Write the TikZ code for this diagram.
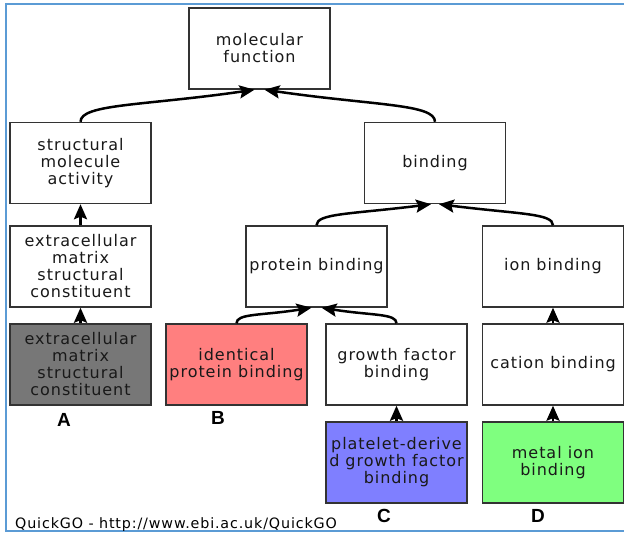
\documentclass[tikz,border=0pt]{standalone}
\usepackage{fontspec}
\usepackage{xcolor}
\usepackage{tikz}
\usetikzlibrary{arrows.meta}

\newfontfamily\gofont[LetterSpace=6]{DejaVu Sans}
\newfontfamily\tagfont{Liberation Sans}

\definecolor{frameblue}{HTML}{5B9BD5}
\definecolor{boxline}{HTML}{333333}
\definecolor{termgrey}{HTML}{777777}
\definecolor{termred}{HTML}{FF7F7F}
\definecolor{termblue}{HTML}{7F7FFF}
\definecolor{termgreen}{HTML}{7FFF7F}

\begin{document}
\begin{tikzpicture}[x=1pt, y=1pt,
        term/.style={draw=boxline, line width=1.4pt, fill=white, rectangle,
            minimum width=141pt, minimum height=81pt, inner sep=1pt,
            align=center, text=black!90, font=\gofont\fontsize{16}{17}\selectfont},
        isa/.style={-{Stealth[length=15pt, width=13pt, inset=2.5pt]}, line width=2.5pt},
        tag/.style={font=\tagfont\bfseries\fontsize{19}{19}\selectfont}]
            \useasboundingbox (0,0) rectangle (624,533);

            % Frame
            \draw [frameblue, line width=2.5pt] (624,529) -- (6,529) -- (6,2) -- (624,2);

            % Nodes
            \node (MF)   [term] at (259.5,484.5) {molecular\\function};
            \node (SMA)  [term] at (80.5,370) {structural\\molecule\\activity};
            \node (BIND) [term] at (435,370) {binding};
            \node (ECM)  [term] at (80.5,266.5) {extracellular\\matrix\\structural\\constituent};
            \node (PB)   [term] at (316.5,266.5) {protein binding};
            \node (IB)   [term] at (553,266.5) {ion binding};
            \node (ECMA) [term, fill=termgrey] at (80.5,168.5) {extracellular\\matrix\\structural\\constituent};
            \node (IPB)  [term, fill=termred] at (236.5,168.5) {identical\\protein binding};
            \node (GFB)  [term] at (396.5,168.5) {growth factor\\binding};
            \node (CB)   [term] at (553,168.5) {cation binding};
            \node (PDG)  [term, fill=termblue] at (396.5,70.5) {platelet-derive\\d growth factor\\binding};
            \node (MIB)  [term, fill=termgreen] at (553,70.5) {metal ion\\binding};

            % Letters
            \node (LA) [tag] at (64,113) {A};
            \node (LB) [tag] at (218,115) {B};
            \node (LC) [tag] at (384,17) {C};
            \node (LD) [tag] at (538,17) {D};
            \node (QG) [anchor=base west, inner sep=0pt, font=\gofont\fontsize{14.3}{14.3}\selectfont] at (15,5) {QuickGO - http://www.ebi.ac.uk/QuickGO};

            % Straight edges
            \draw [isa] (ECM) -- (SMA);
            \draw [isa] (ECMA) -- (ECM);
            \draw [isa] (CB) -- (IB);
            \draw [isa] (PDG) -- (GFB);
            \draw [isa] (MIB) -- (CB);
            % Curved edges
            \draw [isa] (SMA.north) .. controls +(0,18) and +(-110,-16) .. ([xshift=-5pt]MF.south);
            \draw [isa] (BIND.north) .. controls +(0,18) and +(110,-16) .. ([xshift=5pt]MF.south);
            \draw [isa] (PB.north) .. controls +(0,12) and +(-80,-10) .. ([xshift=-4pt]BIND.south);
            \draw [isa] (IB.north) .. controls +(0,12) and +(80,-10) .. ([xshift=4pt]BIND.south);
            \draw [isa] (IPB.north) .. controls +(0,10) and +(-50,-8) .. ([xshift=-5pt]PB.south);
            \draw [isa] (GFB.north) .. controls +(0,10) and +(50,-8) .. ([xshift=5pt]PB.south);
        \end{tikzpicture}
\end{document}
